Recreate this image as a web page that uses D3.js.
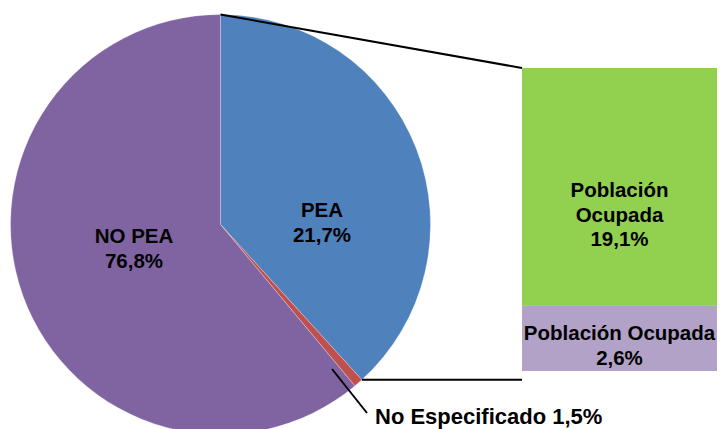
<!DOCTYPE html>
<html><head><meta charset="utf-8">
<script src="https://cdn.jsdelivr.net/npm/d3@7"></script>
<style>html,body{margin:0;padding:0;background:#fff;overflow:hidden}</style>
</head><body>
<svg id="chart" width="720" height="429"></svg>
<script>
// Pie slices (clockwise from 12 o'clock)
const pieCategories = ["PEA", "No Especificado", "NO PEA"];
const pieLabelValues = [21.7, 1.5, 76.8];          // values printed in labels (%)
const pieDrawnShares = [38.25, 0.7, 61.05];         // angular shares as drawn in the picture
const pieColors = ["#4F81BD", "#C0504D", "#8064A2"];

// Bar of pie (stacked, bottom to top)
const barCategories = ["Población Ocupada", "Población Ocupada"];
const barLabelValues = [2.6, 19.1];                 // printed in labels (%)
const barDrawnShares = [21.5, 78.5];                // heights as drawn
const barColors = ["#B3A2C7", "#92D050"];

const fmt = v => d3.format(".1f")(v).replace(".", ",") + "%";

const svg = d3.select("#chart");
const cx = 220.5, cy = 224.5, R = 210;
const font = "'Liberation Sans', Arial, sans-serif";

const pie = d3.pie().sort(null).value(d => d.share);
const pieData = pie(pieCategories.map((c, i) => ({cat: c, share: pieDrawnShares[i], val: pieLabelValues[i], color: pieColors[i]})));
const arc = d3.arc().innerRadius(0).outerRadius(R);

const g = svg.append("g").attr("transform", `translate(${cx},${cy})`);
g.selectAll("path").data(pieData).join("path")
  .attr("d", arc)
  .attr("fill", d => d.data.color)
  .attr("stroke", "rgba(255,255,255,0.35)")
  .attr("stroke-width", 0.8);

// Bar
const barX0 = 522, barX1 = 717;
const y = d3.scaleLinear().domain([0, 100]).range([371, 68]);
let cum = 0;
const barData = barDrawnShares.map((s, i) => {
  const d = {y0: cum, y1: cum + s, color: barColors[i], cat: barCategories[i], val: barLabelValues[i]};
  cum += s; return d;
});
svg.selectAll("rect.bar").data(barData).join("rect")
  .attr("class", "bar")
  .attr("x", barX0).attr("width", barX1 - barX0)
  .attr("y", d => y(d.y1)).attr("height", d => y(d.y0) - y(d.y1))
  .attr("fill", d => d.color);

// Connector lines
const pt = a => [cx + R * Math.sin(a), cy - R * Math.cos(a)];
const topPt = pt(pieData[0].startAngle);
const endPt = pt(pieData[0].endAngle);
svg.append("line").attr("x1", topPt[0]).attr("y1", topPt[1]).attr("x2", barX0).attr("y2", y(100))
  .attr("stroke", "#000").attr("stroke-width", 2);
svg.append("line").attr("x1", endPt[0]).attr("y1", endPt[1]).attr("x2", barX0).attr("y2", endPt[1])
  .attr("stroke", "#000").attr("stroke-width", 2);

// Labels
function label(lines, x, y0, anchor = "middle", size = 20.5) {
  const t = svg.append("text").attr("x", x).attr("y", y0)
    .attr("text-anchor", anchor).attr("font-family", font)
    .attr("font-weight", "bold").attr("font-size", size).attr("fill", "#000");
  lines.forEach((l, i) => t.append("tspan").attr("x", x).attr("dy", i === 0 ? 0 : 24.5).text(l));
}
label([pieData[0].data.cat, fmt(pieData[0].data.val)], 322, 217);
label([pieData[2].data.cat, fmt(pieData[2].data.val)], 134, 243);

// No Especificado with leader line
svg.append("line").attr("x1", 332).attr("y1", 369).attr("x2", 367).attr("y2", 413)
  .attr("stroke", "#000").attr("stroke-width", 2);
label([pieData[1].data.cat + " " + fmt(pieData[1].data.val)], 375, 424, "start", 22);

// Bar labels
const bx = (barX0 + barX1) / 2;
label(["Población", "Ocupada", fmt(barData[1].val)], bx, 197);
label([barData[0].cat, fmt(barData[0].val)], bx, 340);
</script>
</body></html>
